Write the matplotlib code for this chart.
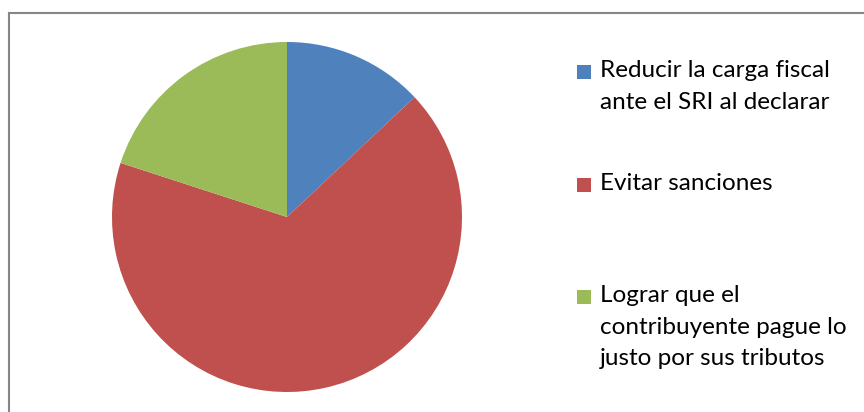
import matplotlib
matplotlib.use('Agg')
import matplotlib.pyplot as plt
from matplotlib.patches import Rectangle
from matplotlib.lines import Line2D

plt.rcParams['font.family'] = ['Lato', 'DejaVu Sans']

# ========== Data ==========
labels = ['Reducir la carga fiscal\nante el SRI al declarar',
          'Evitar sanciones',
          'Lograr que el\ncontribuyente pague lo\njusto por sus tributos']
values = [13, 67, 20]
colors = ['#4F81BD', '#C0504D', '#9BBB59']

W, H = 864, 412
fig = plt.figure(figsize=(W / 100, H / 100), dpi=100)

# chart area border (only top and left edges fall inside the picture)
fig.add_artist(Line2D([8.5 / W, 8.5 / W], [0, 1 - 12.5 / H],
                      color='#868686', lw=1.5, transform=fig.transFigure))
fig.add_artist(Line2D([8.5 / W, 1], [1 - 12.5 / H, 1 - 12.5 / H],
                      color='#868686', lw=1.5, transform=fig.transFigure))

# ========== Pie ==========
ax = fig.add_axes([112 / W, 20 / H, 350 / W, 350 / H])
ax.pie(values, colors=colors, startangle=90, counterclock=False, radius=1,
       wedgeprops=dict(linewidth=0))
ax.set_xlim(-1, 1)
ax.set_ylim(-1, 1)
ax.set_aspect('equal')
ax.axis('off')

# ========== Legend (drawn by hand so the square sits on the first line) ==========
marker_y = [72, 185, 297]   # pixel rows from the top
for lab, col, my in zip(labels, colors, marker_y):
    fig.add_artist(Rectangle((577 / W, 1 - (my + 7) / H), 14 / W, 14 / H,
                             facecolor=col, edgecolor='none',
                             transform=fig.transFigure))
    fig.text(600 / W, 1 - (my - 12) / H, lab, fontsize=17.5, va='top',
             ha='left', linespacing=1.62, color='black')

fig.savefig('out.png', dpi=100)
